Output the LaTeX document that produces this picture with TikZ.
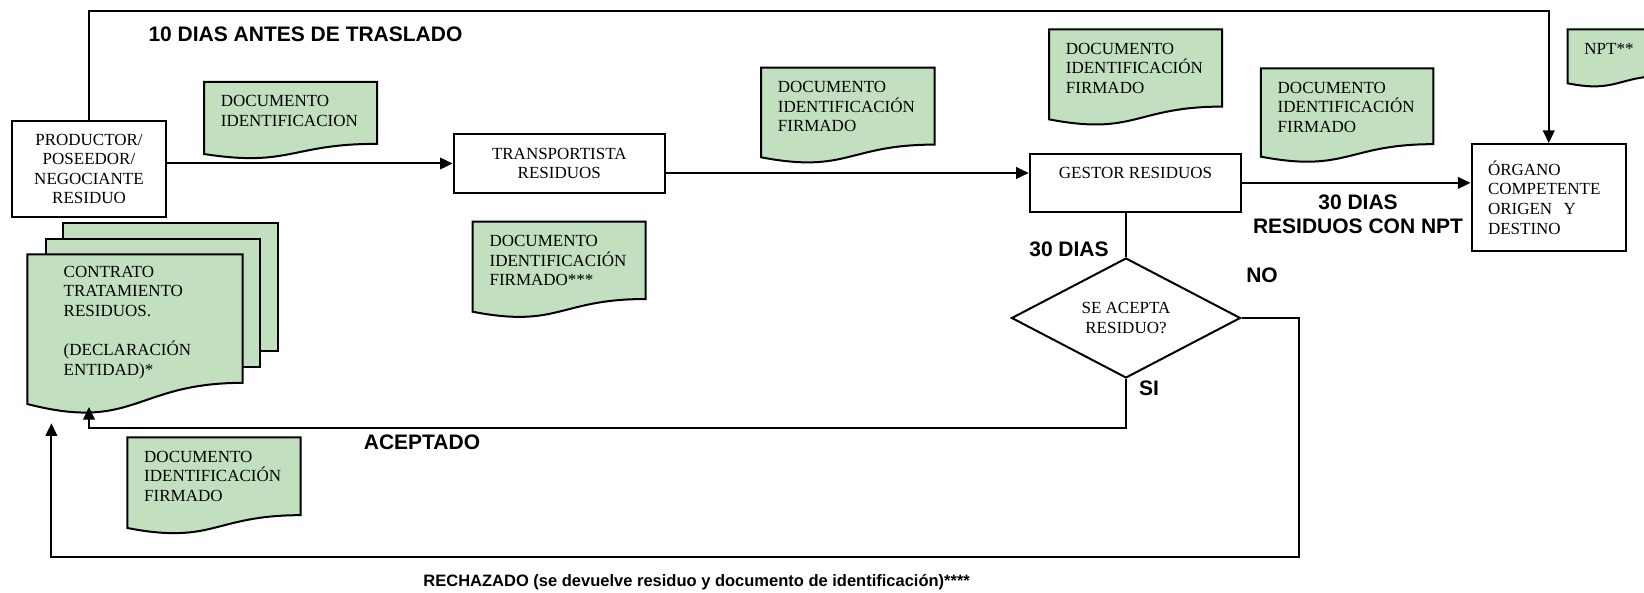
\documentclass[tikz,border=0pt]{standalone}
\usepackage{fontspec}
\setmainfont{Liberation Serif}
\newfontfamily\lsans{Liberation Sans}
\usetikzlibrary{arrows.meta,shapes.geometric,calc}
\definecolor{docgreen}{RGB}{194,224,192}
\tikzset{
  ln/.style={line width=1pt, draw=black},
  arr/.style={ln, -{Triangle[length=6.3pt,width=5.8pt]}},
  procbox/.style={draw=black, line width=1pt, fill=white, font=\fontsize{8.5}{9.8}\selectfont, align=center, inner sep=0pt},
  docfill/.style={draw=black, line width=1pt, fill=docgreen},
  doctext/.style={font=\fontsize{8.5}{9.8}\selectfont, align=left, inner sep=0pt, anchor=north west},
  lbl/.style={font=\lsans\bfseries\fontsize{10.5}{12.15}\selectfont, inner sep=0pt},
}
% #1 name, #2 x0, #3 y0, #4 w, #5 H, #6 dx, #7 dy (first baseline), #8 text
\newcommand\wdoc[8]{%
  \path[docfill] (#2,#3) -- ({#2+#4},#3) -- ({#2+#4},{#3+0.802*#5})
    .. controls ({#2+#4/2},{#3+0.802*#5}) and ({#2+#4/2},{#3+1.1075*#5}) .. (#2,{#3+0.934*#5}) -- cycle;
  \node[doctext] (#1) at ({#2+#6},{#3+#7-11.25}) {#8};
}
\begin{document}
\begin{tikzpicture}[x=0.5pt,y=-0.5pt]
\useasboundingbox (0,0) rectangle (1644,593);
\clip (0,0) rectangle (1644,593);

% process boxes
\node[procbox, minimum width=77pt, minimum height=48pt] (prod) at (89,169) {PRODUCTOR/\\POSEEDOR/\\NEGOCIANTE\\RESIDUO};
\node[procbox, minimum width=105.7pt, minimum height=29.2pt] (transp) at (559.3,163.5) {TRANSPORTISTA\\RESIDUOS};
\node[procbox, minimum width=105.8pt, minimum height=28.85pt] (gestor) at (1135.5,182.9) {GESTOR RESIDUOS\\ \mbox{}};
\node[procbox, align=left, text width=60.75pt, inner xsep=8.25pt, minimum width=77.25pt, minimum height=53.35pt] (organo) at (1548.75,197.4) {ÓRGANO\\COMPETENTE\\ORIGEN\ \ Y\\DESTINO};
\node[draw=black, line width=1pt, fill=white, diamond, inner sep=0pt, minimum width=114.5pt, minimum height=57pt, align=center, font=\fontsize{8.5}{9.8}\selectfont] (dia) at (1126,318) {SE ACEPTA\\RESIDUO?};

% documents
\wdoc{doc1}{204}{82}{173}{77.1}{16.5}{24.5}{DOCUMENTO\\IDENTIFICACION}
\wdoc{docm}{761}{67.7}{173.6}{95.9}{16.5}{24.5}{DOCUMENTO\\IDENTIFICACIÓN\\FIRMADO}
\wdoc{docf}{472.7}{221.7}{173}{96.4}{16.5}{24.5}{DOCUMENTO\\IDENTIFICACIÓN\\FIRMADO***}
\wdoc{doca}{1049}{29.3}{173}{96.4}{16.5}{24.5}{DOCUMENTO\\IDENTIFICACIÓN\\FIRMADO}
\wdoc{docb}{1260.8}{68.3}{172.6}{94.6}{16.5}{24.5}{DOCUMENTO\\IDENTIFICACIÓN\\FIRMADO}
\wdoc{docbl}{127.3}{437.3}{173.4}{97.1}{16.5}{24.5}{DOCUMENTO\\IDENTIFICACIÓN\\FIRMADO}
\wdoc{npt}{1567.5}{29.3}{100}{57.8}{16.5}{24.5}{NPT**}

% contract stack
\node[docfill, anchor=north west, inner sep=0pt, minimum width=107.8pt, minimum height=64.15pt] (cback) at (61.7,221.7) {};
\node[docfill, anchor=north west, inner sep=0pt, minimum width=107pt, minimum height=64.15pt] (cmid) at (45,237.7) {};
\wdoc{contrato}{27.3}{254.3}{215.4}{160.3}{36}{22.4}{CONTRATO\\TRATAMIENTO\\RESIDUOS.\\[9.8pt](DECLARACIÓN\\ENTIDAD)*}

% labels
\node[lbl, anchor=base] (l10) at (305.5,41.5) {10 DIAS ANTES DE TRASLADO};
\node[lbl, anchor=base] (lacep) at (422,449.8) {ACEPTADO};
\node[lbl, anchor=north, align=center] (l30npt) at (1358,194.2) {30 DIAS\\RESIDUOS CON NPT};
\node[lbl, anchor=base] (l30) at (1069,256.8) {30 DIAS};
\node[lbl, anchor=base] (lno) at (1262,282.5) {NO};
\node[lbl, anchor=base] (lsi) at (1149,395.8) {SI};
\node[lbl, anchor=base, font=\lsans\bfseries\fontsize{8.25}{10}\selectfont] (lrech) at (696.7,586.9) {RECHAZADO (se devuelve residuo y documento de identificación)****};

% connectors
\coordinate (topy) at (0,11);
\draw[arr] (prod.north) |- (topy -| organo.north) -- (organo.north);
\draw[arr] (transp.west -| prod.east) -- (transp.west);
\draw[arr] ([yshift=-4.75pt]transp.east) -- ([yshift=-4.75pt]transp.east -| gestor.west);
\draw[arr] (gestor.east) -- (gestor.east -| organo.west);
\draw[ln] (dia.north |- gestor.south) -- (dia.north);
\coordinate (nocorner) at (1299,556.7);
\coordinate (rtip) at (51.4,423.3);
\draw[arr] (dia.east) -| (nocorner) -| (rtip);
\coordinate (ctip) at (89,407);
\draw[arr] (dia.south) -- ++(0,49.3) -| (ctip);
\end{tikzpicture}
\end{document}
